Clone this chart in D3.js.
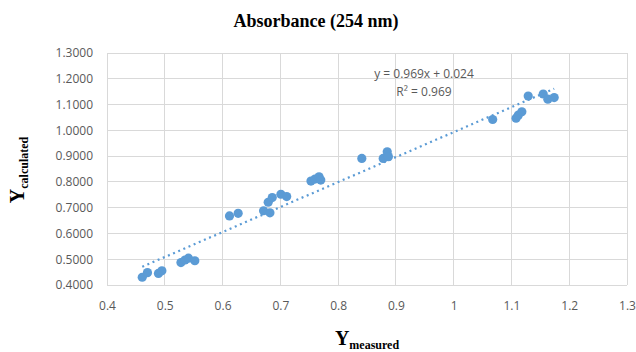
<!DOCTYPE html>
<html><head><meta charset="utf-8">
<script src="https://cdn.jsdelivr.net/npm/d3@7"></script>
<style>body{margin:0;background:#fff}svg{display:block}</style>
</head><body>
<script>
const measured = [0.461,0.470,0.489,0.495,0.528,0.535,0.541,0.552,
  0.612,0.627,0.671,0.682,0.679,0.686,0.701,0.711,0.753,0.760,0.767,0.770,
  0.841,0.878,0.885,0.887,
  1.0675,1.108,1.112,1.118,1.129,1.155,1.163,1.174];
const calculated = [0.430,0.448,0.445,0.455,0.487,0.497,0.504,0.494,
  0.668,0.678,0.688,0.680,0.721,0.739,0.752,0.743,0.803,0.811,0.820,0.807,
  0.891,0.891,0.917,0.898,
  1.042,1.047,1.059,1.072,1.133,1.141,1.121,1.127];
const xTicks = [0.4,0.5,0.6,0.7,0.8,0.9,1.0,1.1,1.2,1.3];
const yTicks = [0.4,0.5,0.6,0.7,0.8,0.9,1.0,1.1,1.2,1.3];
const slope = 0.969, intercept = 0.024;
const titleText = "Absorbance (254 nm)";
const eqText = "y = 0.969x + 0.024";
const r2Text = "R² = 0.969";

const W=636,H=352;
const L=107,R=627,T=53,B=285;
const svg=d3.select("body").append("svg").attr("width",W).attr("height",H);
const x=d3.scaleLinear().domain([0.4,1.3]).range([L,R]);
const y=d3.scaleLinear().domain([0.4,1.3]).range([B,T]);
const grid="#d9d9d9", txt="#595959", blue="#5b9bd5";

// gridlines
svg.append("g").selectAll("line").data(xTicks).join("line")
  .attr("x1",d=>x(d)).attr("x2",d=>x(d)).attr("y1",T).attr("y2",B)
  .attr("stroke",grid).attr("stroke-width",1).attr("shape-rendering","crispEdges");
svg.append("g").selectAll("line").data(yTicks).join("line")
  .attr("y1",d=>y(d)).attr("y2",d=>y(d)).attr("x1",L).attr("x2",R)
  .attr("stroke",grid).attr("stroke-width",1).attr("shape-rendering","crispEdges");

// axes (labels only)
const xAxis=svg.append("g").attr("transform",`translate(0,${B})`)
  .call(d3.axisBottom(x).tickValues(xTicks).tickSize(0).tickPadding(16).tickFormat(d=>d3.format("")(+d.toFixed(1))));
const yAxis=svg.append("g").attr("transform",`translate(${L},0)`)
  .call(d3.axisLeft(y).tickValues(yTicks).tickSize(0).tickPadding(14).tickFormat(d3.format(".4f")));
[xAxis,yAxis].forEach(g=>{
  g.select(".domain").remove();
  g.selectAll("text").attr("fill",txt).style("font-family","'Open Sans','Liberation Sans',sans-serif").style("font-size","12px");
});

// trendline
const xmin=d3.min(measured), xmax=d3.max(measured);
svg.append("line")
  .attr("x1",x(xmin)).attr("y1",y(slope*xmin+intercept))
  .attr("x2",x(xmax)).attr("y2",y(slope*xmax+intercept))
  .attr("stroke",blue).attr("stroke-width",2.2).attr("stroke-dasharray","2,3.6");

// points
svg.append("g").selectAll("circle").data(measured).join("circle")
  .attr("cx",d=>x(d)).attr("cy",(d,i)=>y(calculated[i])).attr("r",4.6)
  .attr("fill",blue);

// equation
const eq=svg.append("g").style("font-family","'Open Sans','Liberation Sans',sans-serif").style("font-size","12px").attr("fill",txt);
eq.append("text").attr("x",424).attr("y",78).attr("text-anchor","middle").text(eqText);
eq.append("text").attr("x",424).attr("y",96).attr("text-anchor","middle").text(r2Text);

// title
svg.append("text").attr("x",316).attr("y",27).attr("text-anchor","middle")
  .style("font-family","'Liberation Serif','Times New Roman',serif").style("font-weight","bold").style("font-size","18px")
  .attr("fill","#000").text(titleText);

// x axis title
const xt=svg.append("text").attr("x",367).attr("y",345).attr("text-anchor","middle")
  .style("font-family","'Liberation Serif','Times New Roman',serif").style("font-weight","bold").attr("fill","#000");
xt.append("tspan").style("font-size","20px").text("Y");
xt.append("tspan").style("font-size","12px").attr("dy",4).text("measured");

// y axis title
const yt=svg.append("text").attr("transform","translate(24,170) rotate(-90)").attr("text-anchor","middle")
  .style("font-family","'Liberation Serif','Times New Roman',serif").style("font-weight","bold").attr("fill","#000");
yt.append("tspan").style("font-size","20px").text("Y");
yt.append("tspan").style("font-size","12px").attr("dy",4).text("calculated");
</script>
</body></html>
